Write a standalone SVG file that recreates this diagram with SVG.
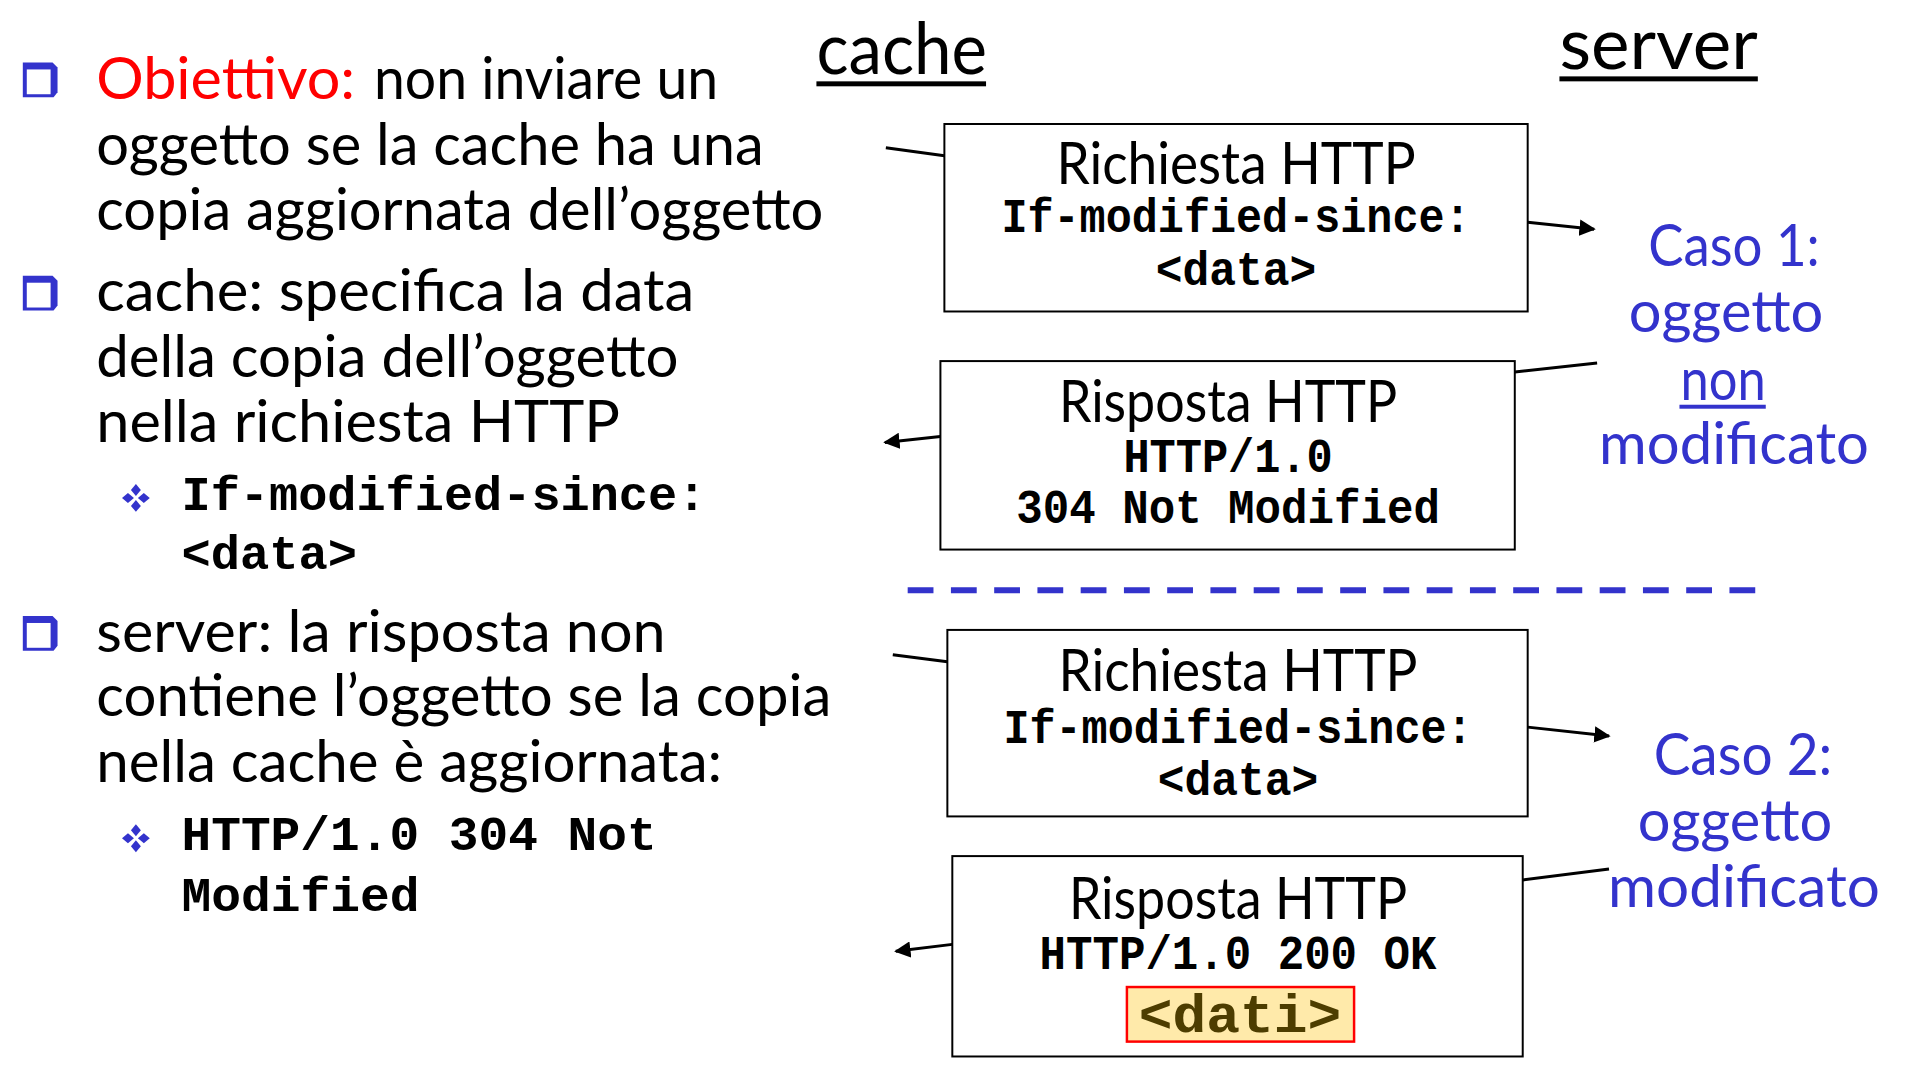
<svg xmlns="http://www.w3.org/2000/svg" width="1912" height="1080" viewBox="0 0 1912 1080">
<style>
.t{font-family:"Lato","Open Sans",sans-serif;font-size:58px;fill:#000}
.h{font-family:"Lato","Open Sans",sans-serif;font-size:72px;fill:#000}
.m{font-family:"Liberation Mono","DejaVu Sans Mono",monospace;font-weight:bold;font-size:48px;fill:#000}
.bl{fill:#3333cc}
.red{fill:#ff0000}
.box{fill:#fff;stroke:#000;stroke-width:2}
.ln{stroke:#000;stroke-width:3;fill:none}
</style>
<defs>
<marker id="ah" viewBox="0 0 10 10" refX="9" refY="5" markerWidth="5.5" markerHeight="5.5" orient="auto" markerUnits="strokeWidth">
<path d="M0,0 L10,5 L0,10 Z" fill="#000"/>
</marker>
<g id="sqb"><path d="M0,0 H30 L35,5 V30 L31,35 H0 Z" fill="#3333cc"/><rect x="4" y="7" width="24" height="25" fill="#fff"/></g>
<g id="dia" fill="#3333cc"><path d="M0,-14 L5,-8 L0,-2 L-5,-8 Z"/><path d="M0,2 L5,8 L0,14 L-5,8 Z"/><path d="M-14,0 L-8,-5 L-2,0 L-8,5 Z"/><path d="M2,0 L8,-5 L14,0 L8,5 Z"/></g>
</defs>
<g transform="scale(0.992)">
<g id="titles">
<text class="h" x="823" y="75" textLength="172" lengthAdjust="spacingAndGlyphs">cache</text>
<rect x="823" y="82" width="171" height="5" fill="#000"/>
<text class="h" x="1572" y="70" textLength="200" lengthAdjust="spacingAndGlyphs">server</text>
<rect x="1572" y="77" width="200" height="5" fill="#000"/>
</g>

<g id="bullets">
<use href="#sqb" x="23" y="63"/>
<text class="t red" x="97" y="100" textLength="261" lengthAdjust="spacingAndGlyphs">Obiettivo:</text>
<text class="t" x="377" y="100" textLength="347" lengthAdjust="spacingAndGlyphs">non inviare un</text>
<text class="t" x="97" y="166" textLength="673" lengthAdjust="spacingAndGlyphs">oggetto se la cache ha una</text>
<text class="t" x="97" y="232" textLength="733" lengthAdjust="spacingAndGlyphs">copia aggiornata dell’oggetto</text>
<use href="#sqb" x="23" y="278"/>
<text class="t" x="97" y="314" textLength="603" lengthAdjust="spacingAndGlyphs">cache: specifica la data</text>
<text class="t" x="97" y="380" textLength="587" lengthAdjust="spacingAndGlyphs">della copia dell’oggetto</text>
<text class="t" x="97" y="446" textLength="528" lengthAdjust="spacingAndGlyphs">nella richiesta HTTP</text>
<use href="#dia" x="137" y="502"/>
<text class="m" x="183" y="514" textLength="529" lengthAdjust="spacingAndGlyphs">If-modified-since:</text>
<text class="m" x="183" y="574" textLength="177" lengthAdjust="spacingAndGlyphs">&lt;data&gt;</text>
<use href="#sqb" x="23" y="621"/>
<text class="t" x="97" y="657" textLength="574" lengthAdjust="spacingAndGlyphs">server: la risposta non</text>
<text class="t" x="97" y="722" textLength="741" lengthAdjust="spacingAndGlyphs">contiene l’oggetto se la copia</text>
<text class="t" x="97" y="788" textLength="631" lengthAdjust="spacingAndGlyphs">nella cache è aggiornata:</text>
<use href="#dia" x="137" y="845"/>
<text class="m" x="183" y="857" textLength="479" lengthAdjust="spacingAndGlyphs">HTTP/1.0 304 Not</text>
<text class="m" x="183" y="918" textLength="240" lengthAdjust="spacingAndGlyphs">Modified</text>
</g>

<g id="connectors">
<line class="ln" x1="893" y1="149" x2="952" y2="157"/>
<line class="ln" x1="1540" y1="224" x2="1607" y2="231" marker-end="url(#ah)"/>
<line class="ln" x1="1610" y1="366" x2="1527" y2="375"/>
<line class="ln" x1="948" y1="440" x2="892" y2="446" marker-end="url(#ah)"/>
<line class="ln" x1="900" y1="660" x2="955" y2="667"/>
<line class="ln" x1="1540" y1="733" x2="1622" y2="742" marker-end="url(#ah)"/>
<line class="ln" x1="1622" y1="876" x2="1535" y2="887"/>
<line class="ln" x1="960" y1="952" x2="903" y2="959" marker-end="url(#ah)"/>
</g>

<g id="divider">
<line x1="915" y1="595" x2="1770" y2="595" stroke="#3333cc" stroke-width="6" stroke-dasharray="26 17.6"/>
</g>

<g id="req1">
<rect class="box" x="952" y="125" width="588" height="189"/>
<text class="t" x="1246" y="185" text-anchor="middle" textLength="362" lengthAdjust="spacingAndGlyphs">Richiesta HTTP</text>
<text class="m" x="1246" y="234" text-anchor="middle" textLength="473" lengthAdjust="spacingAndGlyphs">If-modified-since:</text>
<text class="m" x="1246" y="287" text-anchor="middle" textLength="162" lengthAdjust="spacingAndGlyphs">&lt;data&gt;</text>
</g>

<g id="resp1">
<rect class="box" x="948" y="364" width="579" height="190"/>
<text class="t" x="1238" y="425" text-anchor="middle" textLength="341" lengthAdjust="spacingAndGlyphs">Risposta HTTP</text>
<text class="m" x="1238" y="476" text-anchor="middle" textLength="211" lengthAdjust="spacingAndGlyphs">HTTP/1.0</text>
<text class="m" x="1238" y="527" text-anchor="middle" textLength="427" lengthAdjust="spacingAndGlyphs">304 Not Modified</text>
</g>

<g id="case1">
<text class="t bl" x="1748" y="268" text-anchor="middle" textLength="173" lengthAdjust="spacingAndGlyphs">Caso 1:</text>
<text class="t bl" x="1740" y="335" text-anchor="middle" textLength="196" lengthAdjust="spacingAndGlyphs">oggetto</text>
<text class="t bl" x="1737" y="403" text-anchor="middle" textLength="86" lengthAdjust="spacingAndGlyphs">non</text>
<rect x="1693" y="408" width="87" height="4" fill="#3333cc"/>
<text class="t bl" x="1748" y="468" text-anchor="middle" textLength="272" lengthAdjust="spacingAndGlyphs">modificato</text>
</g>

<g id="req2">
<rect class="box" x="955" y="635" width="585" height="188"/>
<text class="t" x="1248" y="697" text-anchor="middle" textLength="362" lengthAdjust="spacingAndGlyphs">Richiesta HTTP</text>
<text class="m" x="1248" y="749" text-anchor="middle" textLength="473" lengthAdjust="spacingAndGlyphs">If-modified-since:</text>
<text class="m" x="1248" y="801" text-anchor="middle" textLength="162" lengthAdjust="spacingAndGlyphs">&lt;data&gt;</text>
</g>

<g id="resp2">
<rect class="box" x="960" y="863" width="575" height="202"/>
<text class="t" x="1248" y="926" text-anchor="middle" textLength="341" lengthAdjust="spacingAndGlyphs">Risposta HTTP</text>
<text class="m" x="1248" y="977" text-anchor="middle" textLength="400" lengthAdjust="spacingAndGlyphs">HTTP/1.0 200 OK</text>
<rect x="1136" y="995" width="229" height="55" fill="#ffeaaa" stroke="#ff0000" stroke-width="2.5"/>
<text class="m" x="1250" y="1040" text-anchor="middle" style="font-size:54px;fill:#4d3d00" textLength="204" lengthAdjust="spacingAndGlyphs">&lt;dati&gt;</text>
</g>

<g id="case2">
<text class="t bl" x="1757" y="781" text-anchor="middle" textLength="180" lengthAdjust="spacingAndGlyphs">Caso 2:</text>
<text class="t bl" x="1749" y="848" text-anchor="middle" textLength="196" lengthAdjust="spacingAndGlyphs">oggetto</text>
<text class="t bl" x="1758" y="914" text-anchor="middle" textLength="274" lengthAdjust="spacingAndGlyphs">modificato</text>
</g>
</g>
</svg>
